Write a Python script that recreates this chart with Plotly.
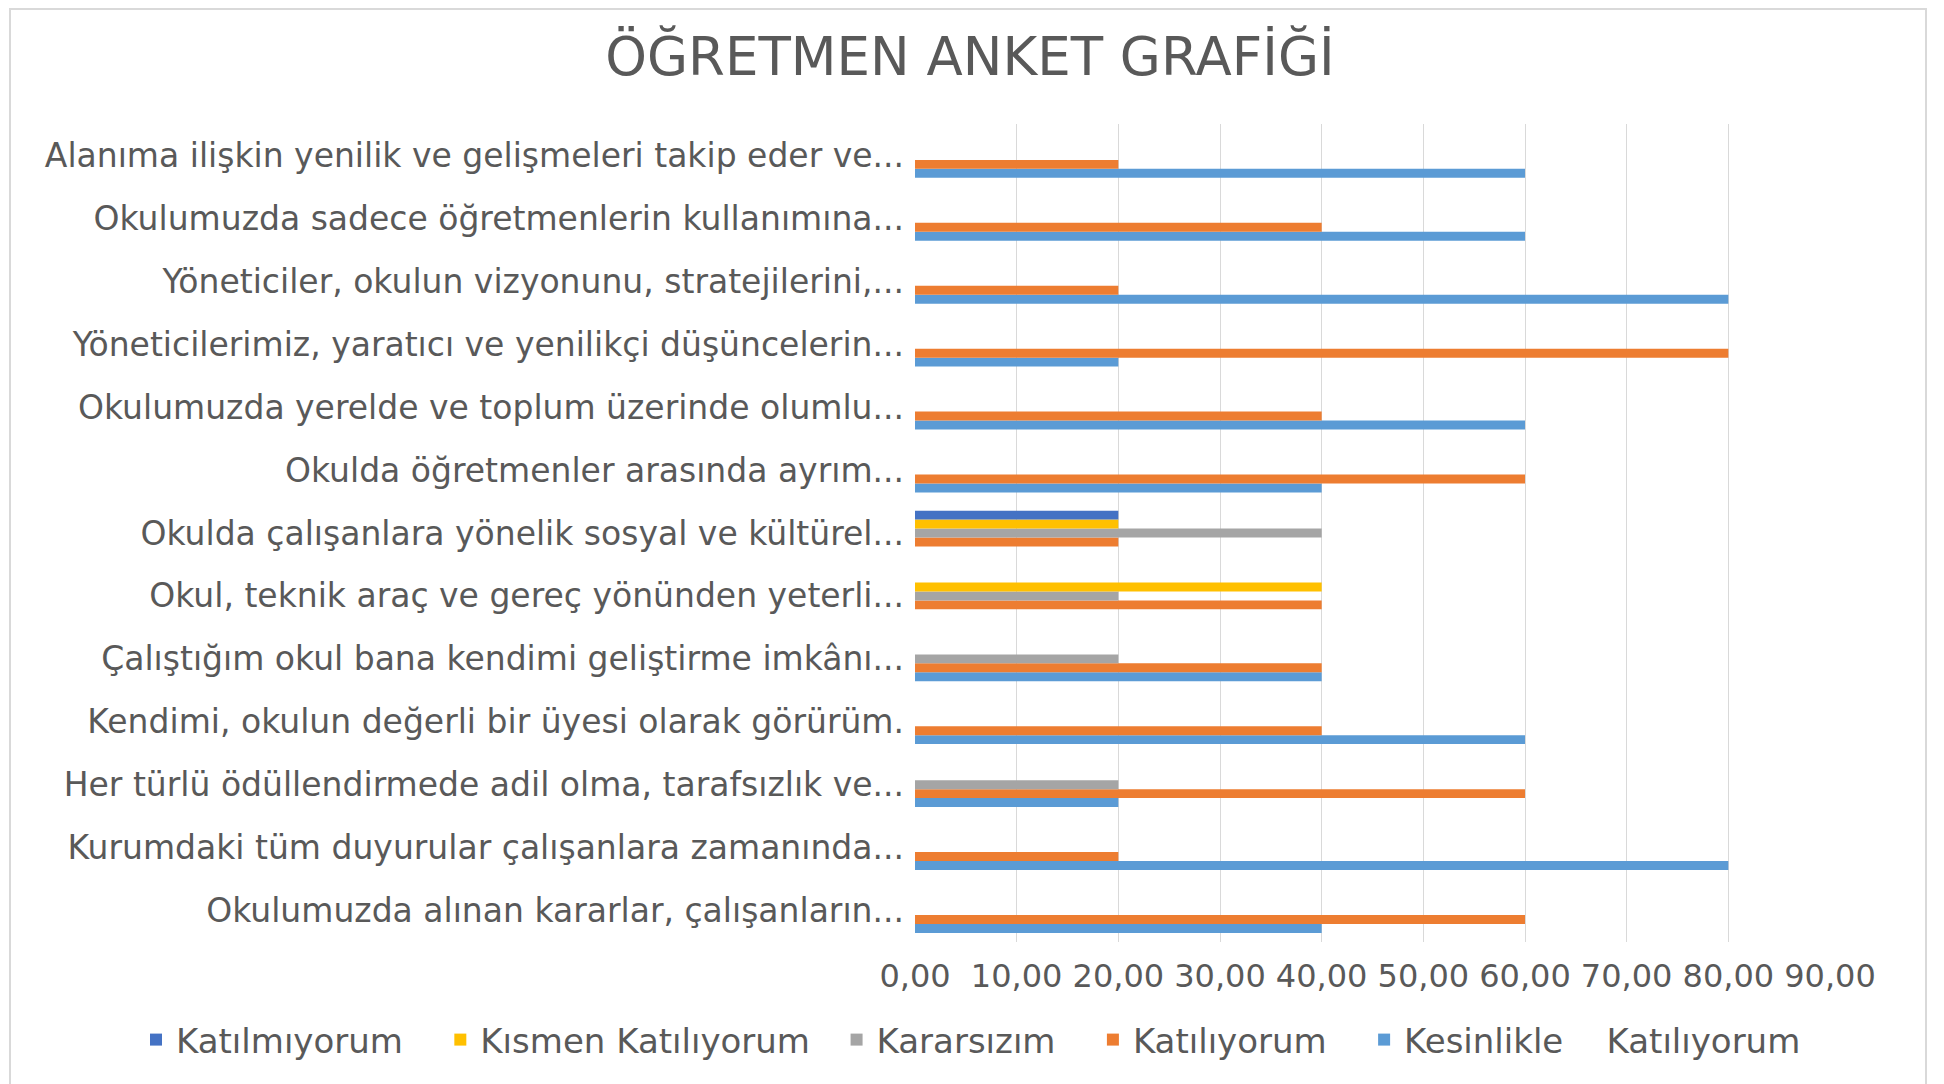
import plotly.graph_objects as go

categories = [
    "Okulumuzda alınan kararlar, çalışanların...",
    "Kurumdaki tüm duyurular çalışanlara zamanında...",
    "Her türlü ödüllendirmede adil olma, tarafsızlık ve...",
    "Kendimi, okulun değerli bir üyesi olarak görürüm.",
    "Çalıştığım okul bana kendimi geliştirme imkânı...",
    "Okul, teknik araç ve gereç yönünden yeterli...",
    "Okulda çalışanlara yönelik sosyal ve kültürel...",
    "Okulda öğretmenler arasında ayrım...",
    "Okulumuzda yerelde ve toplum üzerinde olumlu...",
    "Yöneticilerimiz, yaratıcı ve yenilikçi düşüncelerin...",
    "Yöneticiler, okulun vizyonunu, stratejilerini,...",
    "Okulumuzda sadece öğretmenlerin kullanımına...",
    "Alanıma ilişkin yenilik ve gelişmeleri takip eder ve...",
]

kesinlikle = [40, 80, 20, 60, 40, 0, 0, 40, 60, 20, 80, 60, 60]
katiliyorum = [60, 20, 60, 40, 40, 40, 20, 60, 40, 80, 20, 40, 20]
kararsizim = [0, 0, 20, 0, 20, 20, 40, 0, 0, 0, 0, 0, 0]
kismen = [0, 0, 0, 0, 0, 40, 20, 0, 0, 0, 0, 0, 0]
katilmiyorum = [0, 0, 0, 0, 0, 0, 20, 0, 0, 0, 0, 0, 0]

tick_vals = [0, 10, 20, 30, 40, 50, 60, 70, 80, 90]
tick_text = ["0,00", "10,00", "20,00", "30,00", "40,00", "50,00", "60,00", "70,00", "80,00", "90,00"]

NB = "\u00a0"
series = [
    ("Kesinlikle" + NB * 4 + "Katılıyorum", kesinlikle, "#5B9BD5"),
    ("Katılıyorum" + NB * 3, katiliyorum, "#ED7D31"),
    ("Kararsızım" + NB * 3, kararsizim, "#A5A5A5"),
    ("Kısmen Katılıyorum" + NB * 2, kismen, "#FFC000"),
    ("Katılmıyorum" + NB * 3, katilmiyorum, "#4472C4"),
]

font_family = "DejaVu Sans, Verdana, sans-serif"
txt = "#595959"

# figure geometry (page body adds an 8px offset)
W, H = 1936, 1076
L, R, T, B = 907, 114, 116, 142
PW, PH = W - L - R, H - T - B

fig = go.Figure()
for name, vals, color in series:
    fig.add_trace(go.Bar(
        y=categories, x=vals, name=name, orientation="h",
        marker=dict(color=color, line=dict(width=0)),
    ))

fig.update_layout(
    width=W, height=H,
    barmode="group", bargap=0.29, bargroupgap=0,
    paper_bgcolor="white", plot_bgcolor="white",
    margin=dict(l=L, r=R, t=T, b=B, autoexpand=False),
    font=dict(family=font_family, color=txt, size=32),
    title=dict(text="ÖĞRETMEN ANKET GRAFİĞİ", x=962 / W, xanchor="center",
               y=1 - 48 / H, yanchor="middle",
               font=dict(size=53, color=txt, family=font_family)),
    legend=dict(orientation="h", traceorder="reversed",
                x=(128 - L) / PW, xanchor="left",
                y=-(1032 - (H - B)) / PH, yanchor="middle",
                font=dict(size=34, color=txt)),
    xaxis=dict(range=[0, 90], tickvals=tick_vals, ticktext=tick_text,
               showgrid=True, gridcolor="#D9D9D9", gridwidth=1,
               zeroline=False, showline=False, ticks="",
               ticklabelstandoff=12,
               tickfont=dict(size=32, color=txt)),
    yaxis=dict(type="category", showgrid=False, zeroline=False, showline=False,
               ticks="", ticklabelstandoff=10, tickfont=dict(size=33, color=txt)),
    shapes=[dict(type="rect", xref="paper", yref="paper",
                 x0=(2 - L) / PW, x1=(1918 - L) / PW,
                 y0=-(B + 20) / PH, y1=1 + (T - 1) / PH,
                 line=dict(color="#D9D9D9", width=2), fillcolor="rgba(0,0,0,0)",
                 layer="below")],
)

fig.write_html("out.html")
